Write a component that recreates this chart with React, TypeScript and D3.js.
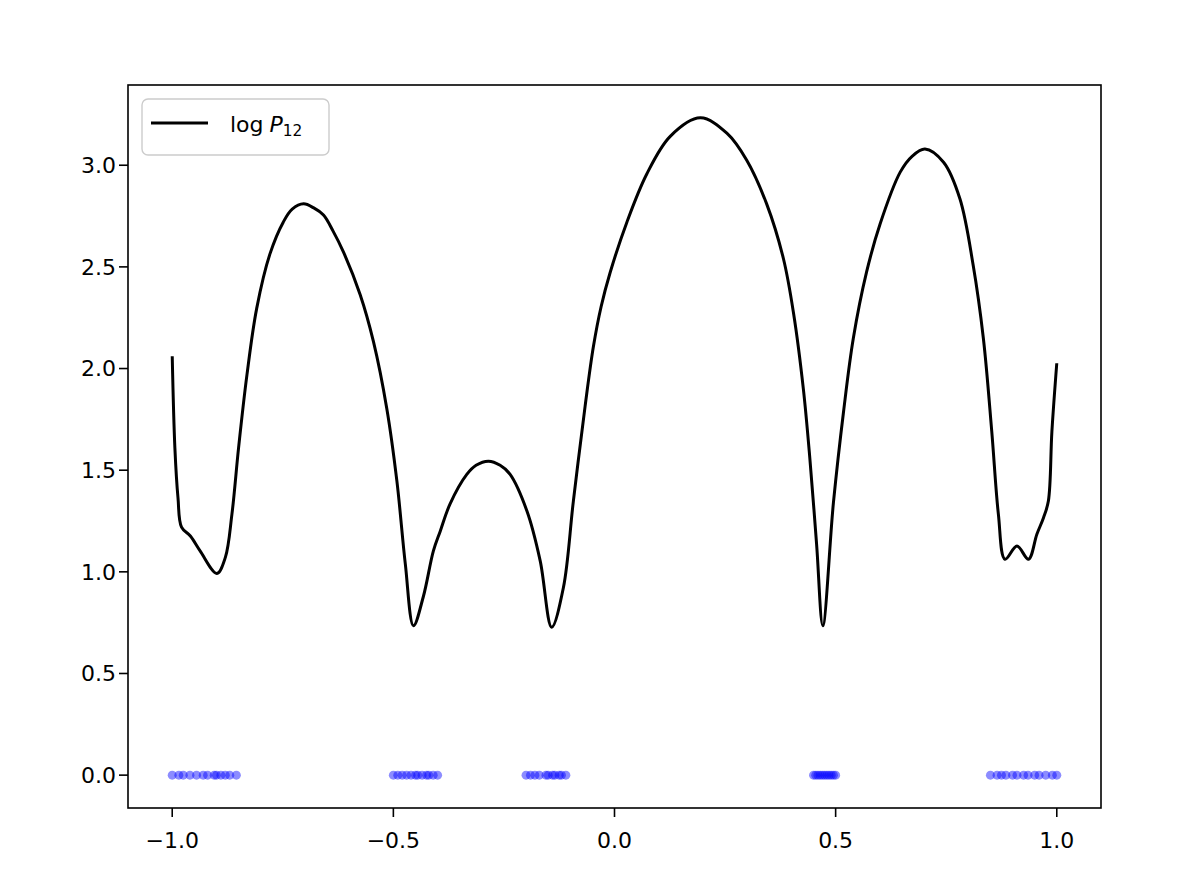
import * as d3 from "d3";

// curve log P12
const curveX = [
  -1.0, -0.994, -0.987, -0.979, -0.959, -0.937, -0.899, -0.88, -0.865, -0.85,
  -0.831, -0.809, -0.779, -0.749, -0.7287, -0.703, -0.68, -0.658, -0.6363, -0.613,
  -0.575, -0.545, -0.515, -0.492, -0.473, -0.4545, -0.432, -0.4095, -0.394, -0.372,
  -0.334, -0.313, -0.285, -0.2586, -0.236, -0.198, -0.168, -0.142, -0.1155, -0.093,
  -0.0665, -0.0477, -0.0303, -0.01, 0.028, 0.073, 0.126, 0.194, 0.254, 0.299,
  0.344, 0.382, 0.405, 0.427, 0.442, 0.457, 0.471, 0.495, 0.518, 0.54,
  0.57, 0.6005, 0.646, 0.6728, 0.702, 0.744, 0.781, 0.811, 0.834, 0.853,
  0.868, 0.883, 0.91, 0.936, 0.955, 0.97, 0.981, 0.989, 1.0,
];
const curveY = [
  2.06, 1.61, 1.365, 1.22, 1.176, 1.103, 0.992, 1.07, 1.284, 1.61,
  1.97, 2.296, 2.564, 2.72, 2.784, 2.81, 2.79, 2.755, 2.676, 2.574,
  2.363, 2.132, 1.805, 1.446, 1.039, 0.735, 0.88, 1.103, 1.2, 1.333,
  1.479, 1.524, 1.544, 1.524, 1.479, 1.299, 1.054, 0.728, 0.923, 1.348,
  1.814, 2.108, 2.304, 2.471, 2.72, 2.957, 3.142, 3.233, 3.158, 3.025,
  2.81, 2.54, 2.27, 1.9, 1.55, 1.134, 0.735, 1.34, 1.79, 2.149,
  2.475, 2.711, 2.966, 3.044, 3.08, 3.015, 2.835, 2.508, 2.149, 1.691,
  1.283, 1.062, 1.127, 1.062, 1.185, 1.266, 1.348, 1.691, 2.026,
];

// blue points on the zero line
const pointsX = [
  -1.0, -0.985, -0.975, -0.96, -0.945, -0.93, -0.92, -0.905, -0.9, -0.89, -0.88, -0.87, -0.855,
  -0.5, -0.49, -0.48, -0.47, -0.46, -0.45, -0.445, -0.435, -0.425, -0.42, -0.41, -0.4,
  -0.2, -0.19, -0.18, -0.17, -0.155, -0.15, -0.14, -0.135, -0.125, -0.12, -0.11,
  0.45, 0.455, 0.46, 0.465, 0.47, 0.475, 0.48, 0.485, 0.49, 0.495, 0.5,
  0.85, 0.865, 0.875, 0.885, 0.9, 0.91, 0.925, 0.935, 0.95, 0.96, 0.975, 0.99, 1.0,
];
const pointsY = pointsX.map(() => 0);

const xTicks = [-1.0, -0.5, 0.0, 0.5, 1.0];
const yTicks = [0.0, 0.5, 1.0, 1.5, 2.0, 2.5, 3.0];

const W = 1196;
const H = 896;
const left = 128, right = 1101, top = 85, bottom = 808;
const font = "DejaVu Sans, sans-serif";
const fs = 22;

export default function App() {
  const x = d3.scaleLinear().domain([-1.1, 1.1]).range([left, right]);
  const ymax = d3.max(curveY) as number;
  const pad = ymax * 0.05;
  const y = d3.scaleLinear().domain([-pad, ymax + pad]).range([bottom, top]);

  const line = d3
    .line<number>()
    .x((_, i) => x(curveX[i]))
    .y((d) => y(d))
    .curve(d3.curveCatmullRom.alpha(0.5));

  const fmt = (v: number) => d3.format(".1f")(v).replace("-", "\u2212");

  return (
    <svg
      width={W}
      height={H}
      style={{ position: "absolute", left: 0, top: 0, background: "#fff" }}
    >
      <rect x={0} y={0} width={W} height={H} fill="#fff" />
      <g>
        {pointsX.map((px, i) => (
          <circle
            key={i}
            cx={x(px)}
            cy={y(pointsY[i])}
            r={4.5}
            fill="#0000ff"
            fillOpacity={0.45}
          />
        ))}
      </g>
      <path d={line(curveY) || ""} fill="none" stroke="#000" strokeWidth={3} strokeLinejoin="round" />

      {/* axes frame */}
      <rect
        x={left}
        y={top}
        width={right - left}
        height={bottom - top}
        fill="none"
        stroke="#000"
        strokeWidth={1.6}
      />

      {/* x ticks */}
      {xTicks.map((t) => (
        <g key={"x" + t}>
          <line x1={x(t)} x2={x(t)} y1={bottom} y2={bottom + 9} stroke="#000" strokeWidth={1.6} />
          <text
            x={x(t)}
            y={848}
            textAnchor="middle"
            fontFamily={font}
            fontSize={fs}
            fill="#000"
          >
            {fmt(t)}
          </text>
        </g>
      ))}

      {/* y ticks */}
      {yTicks.map((t) => (
        <g key={"y" + t}>
          <line x1={left - 9} x2={left} y1={y(t)} y2={y(t)} stroke="#000" strokeWidth={1.6} />
          <text
            x={left - 12}
            y={y(t)}
            dy="0.36em"
            textAnchor="end"
            fontFamily={font}
            fontSize={fs}
            fill="#000"
          >
            {fmt(t)}
          </text>
        </g>
      ))}

      {/* legend */}
      <rect
        x={142}
        y={99}
        width={187}
        height={56}
        rx={6}
        fill="#fff"
        fillOpacity={0.8}
        stroke="#cccccc"
        strokeWidth={1.4}
      />
      <line x1={151} x2={208} y1={123} y2={123} stroke="#000" strokeWidth={3} />
      <text x={230} y={132} fontFamily={font} fontSize={fs} fill="#000">
        log
        <tspan dx={6} fontStyle="italic">P</tspan>
        <tspan fontSize={fs * 0.7} dy={4}>12</tspan>
      </text>
    </svg>
  );
}
